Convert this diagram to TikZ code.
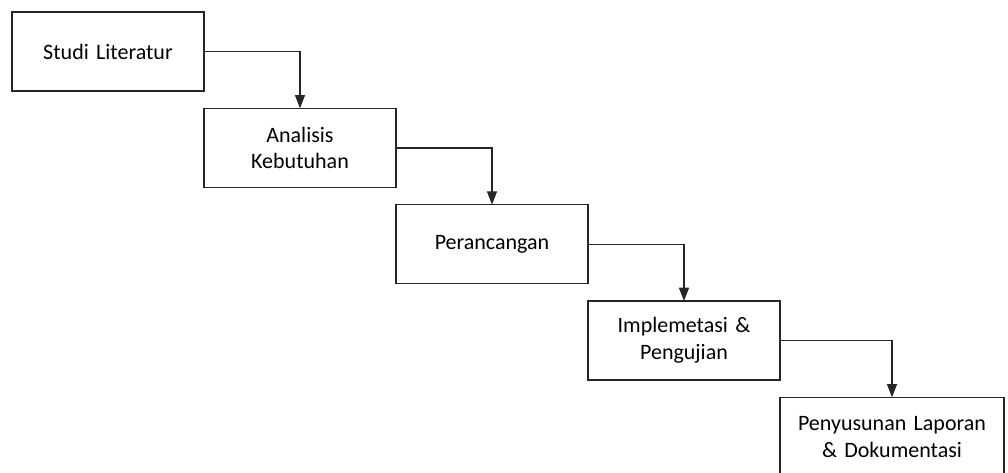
\documentclass[tikz,border=0pt]{standalone}
\usepackage{fontspec}
\setmainfont{Carlito}
\usetikzlibrary{arrows.meta,positioning}

\begin{document}
\begin{tikzpicture}[
    x=0.75pt, y=-0.75pt,
    node distance=13pt,
    stage/.style={rectangle, draw=black!85, line width=1pt, fill=white, outer sep=0pt, minimum width=144pt, minimum height=59.25pt, text width=140pt, align=center, inner sep=0pt, font=\fontsize{16.5}{20}\selectfont},
    arrow/.style={-{Triangle[width=7.5pt,length=10pt]}, draw=black!85, line width=1pt},
]
    \useasboundingbox (0,0) rectangle (1008,472);
    \node[stage, anchor=north west] (lit) at (12,12) {Studi Literatur};
    \node[stage, below right=13pt and 0pt of lit] (keb) {Analisis\\Kebutuhan};
    \node[stage, below right=13pt and 0pt of keb] (ran) {Perancangan};
    \node[stage, below right=13pt and 0pt of ran] (imp) {Implemetasi \&\\Pengujian};
    \node[stage, below right=13pt and 0pt of imp, minimum width=168pt, text width=164pt] (lap) {Penyusunan Laporan\\\& Dokumentasi};

    \draw[arrow] (lit.east) -| (keb.north);
    \draw[arrow] (keb.east) -| (ran.north);
    \draw[arrow] (ran.east) -| (imp.north);
    \draw[arrow] (imp.east) -| (lap.north);
\end{tikzpicture}
\end{document}
